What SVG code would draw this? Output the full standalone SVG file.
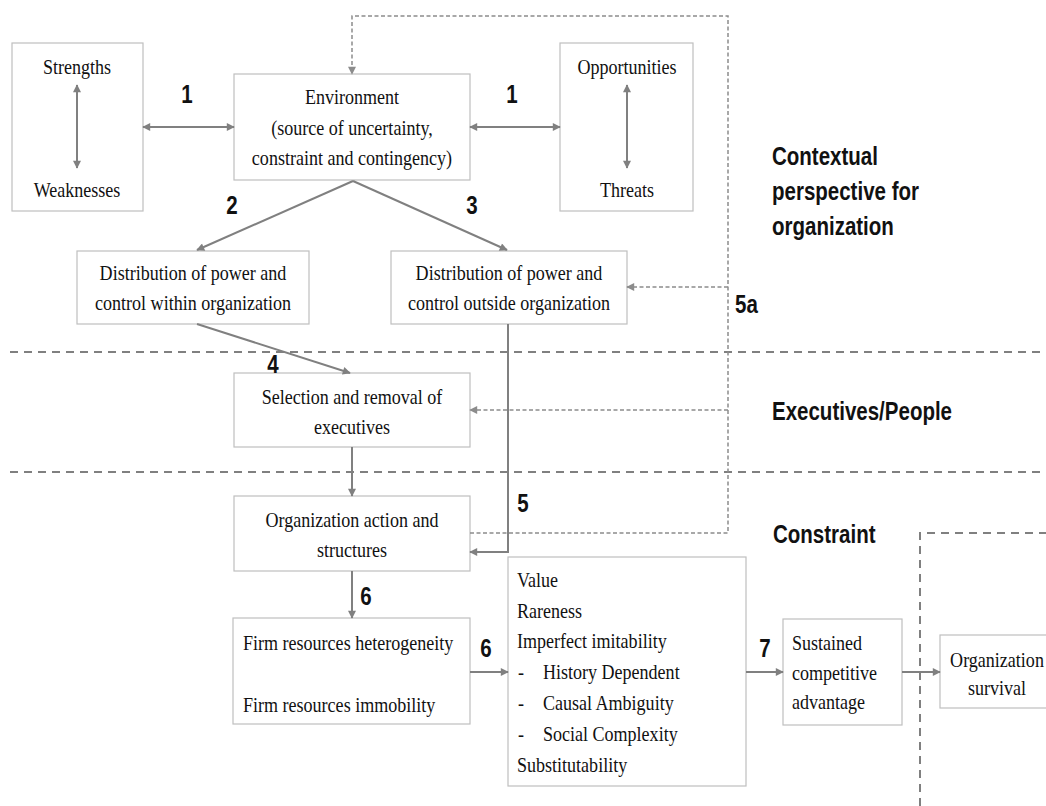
<svg xmlns="http://www.w3.org/2000/svg" width="1046" height="806" viewBox="0 0 1046 806">
<style>
.box{fill:#fff;stroke:#bfbfbf;stroke-width:1.2}
.t{font-family:"Liberation Serif","Times New Roman",serif;font-size:20.5px;fill:#111}
.c{text-anchor:middle}
.conn{fill:none;stroke:#808080;stroke-width:2}
.dash{fill:none;stroke:#8c8c8c;stroke-width:1.5;stroke-dasharray:4 2.5}
.sep{fill:none;stroke:#808080;stroke-width:2;stroke-dasharray:8 6}
.lab{font-family:"Liberation Sans",Arial,sans-serif;font-weight:bold;font-size:25px;fill:#111}
</style>
<defs>
<marker id="ah" viewBox="0 0 10 10" refX="9" refY="5" markerWidth="9" markerHeight="8" markerUnits="userSpaceOnUse" orient="auto-start-reverse"><path d="M0,0 L10,5 L0,10 z" fill="#808080"/></marker>
<marker id="ahd" viewBox="0 0 10 10" refX="9" refY="5" markerWidth="9" markerHeight="8" markerUnits="userSpaceOnUse" orient="auto-start-reverse"><path d="M0,0 L10,5 L0,10 z" fill="#8c8c8c"/></marker>
</defs>
<rect width="1046" height="806" fill="#fff"/>

<g id="separators">
<path class="sep" d="M10,352 H1046"/>
<path class="sep" d="M10,472 H1046"/>
<path class="sep" d="M920,806 V533 H1046"/>
</g>

<g id="strengths-weaknesses">
<rect class="box" x="12" y="43" width="131" height="168"/>
<g transform="translate(77,0) scale(0.88,1)">
<text class="t c" x="0" y="74">Strengths</text>
<text class="t c" x="0" y="197">Weaknesses</text>
</g>
</g>

<g id="environment">
<rect class="box" x="234" y="74" width="236" height="106"/>
<g transform="translate(352,0) scale(0.88,1)">
<text class="t c" x="0" y="104">Environment</text>
<text class="t c" x="0" y="135">(source of uncertainty,</text>
<text class="t c" x="0" y="165">constraint and contingency)</text>
</g>
</g>

<g id="opportunities-threats">
<rect class="box" x="560" y="43" width="133" height="168"/>
<g transform="translate(627,0) scale(0.88,1)">
<text class="t c" x="0" y="74">Opportunities</text>
<text class="t c" x="0" y="197">Threats</text>
</g>
</g>

<g id="power-within">
<rect class="box" x="77" y="251" width="232" height="73"/>
<g transform="translate(193,0) scale(0.88,1)">
<text class="t c" x="0" y="280">Distribution of power and</text>
<text class="t c" x="0" y="310">control within organization</text>
</g>
</g>

<g id="power-outside">
<rect class="box" x="391" y="251" width="236" height="73"/>
<g transform="translate(509,0) scale(0.88,1)">
<text class="t c" x="0" y="280">Distribution of power and</text>
<text class="t c" x="0" y="310">control outside organization</text>
</g>
</g>

<g id="selection">
<rect class="box" x="234" y="373" width="236" height="74"/>
<g transform="translate(352,0) scale(0.88,1)">
<text class="t c" x="0" y="404">Selection and removal of</text>
<text class="t c" x="0" y="434">executives</text>
</g>
</g>

<g id="org-action">
<rect class="box" x="234" y="496" width="236" height="75"/>
<g transform="translate(352,0) scale(0.88,1)">
<text class="t c" x="0" y="527">Organization action and</text>
<text class="t c" x="0" y="557">structures</text>
</g>
</g>

<g id="firm-resources">
<rect class="box" x="233" y="618" width="237" height="106"/>
<g transform="translate(243,0) scale(0.88,1)">
<text class="t" x="0" y="650">Firm resources heterogeneity</text>
<text class="t" x="0" y="712">Firm resources immobility</text>
</g>
</g>

<g id="vrin">
<rect class="box" x="508" y="557" width="238" height="229"/>
<g transform="translate(517,0) scale(0.88,1)">
<text class="t" x="0" y="587">Value</text>
<text class="t" x="0" y="618">Rareness</text>
<text class="t" x="0" y="648">Imperfect imitability</text>
<text class="t" y="679"><tspan x="1">-</tspan><tspan x="29.5">History Dependent</tspan></text>
<text class="t" y="710"><tspan x="1">-</tspan><tspan x="29.5">Causal Ambiguity</tspan></text>
<text class="t" y="741"><tspan x="1">-</tspan><tspan x="29.5">Social Complexity</tspan></text>
<text class="t" x="0" y="772">Substitutability</text>
</g>
</g>

<g id="sustained">
<rect class="box" x="783" y="619" width="119" height="106"/>
<g transform="translate(792,0) scale(0.88,1)">
<text class="t" x="0" y="650">Sustained</text>
<text class="t" x="0" y="680">competitive</text>
<text class="t" x="0" y="709">advantage</text>
</g>
</g>

<g id="survival">
<rect class="box" x="940" y="635" width="120" height="73"/>
<g transform="translate(997,0) scale(0.88,1)">
<text class="t c" x="0" y="667">Organization</text>
<text class="t c" x="0" y="695">survival</text>
</g>
</g>

<g id="connectors">
<path class="conn" d="M77,85 V168" marker-start="url(#ah)" marker-end="url(#ah)"/>
<path class="conn" d="M627,85 V168" marker-start="url(#ah)" marker-end="url(#ah)"/>
<path class="conn" d="M143,127 H234" marker-start="url(#ah)" marker-end="url(#ah)"/>
<path class="conn" d="M470,127 H560" marker-start="url(#ah)" marker-end="url(#ah)"/>
<path class="conn" d="M353,181 L197,250" marker-end="url(#ah)"/>
<path class="conn" d="M353,181 L507,250" marker-end="url(#ah)"/>
<path class="conn" d="M197,324 L350,373" marker-end="url(#ah)"/>
<path class="conn" d="M352,447 V496" marker-end="url(#ah)"/>
<path class="conn" d="M508,324 V552 H470" marker-end="url(#ah)"/>
<path class="conn" d="M352,571 V618" marker-end="url(#ah)"/>
<path class="conn" d="M470,672 H508" marker-end="url(#ah)"/>
<path class="conn" d="M746,672 H783" marker-end="url(#ah)"/>
<path class="conn" d="M902,672 H940" marker-end="url(#ah)"/>
<path class="dash" d="M470,533 H728 V16 H352 V74" marker-end="url(#ahd)"/>
<path class="dash" d="M728,287 H627" marker-end="url(#ahd)"/>
<path class="dash" d="M728,410 H470" marker-end="url(#ahd)"/>
</g>

<g id="labels">
<text class="lab c" transform="translate(187,103) scale(0.82,1)">1</text>
<text class="lab c" transform="translate(512,103) scale(0.82,1)">1</text>
<text class="lab c" transform="translate(232,214) scale(0.82,1)">2</text>
<text class="lab c" transform="translate(472,214) scale(0.82,1)">3</text>
<text class="lab c" transform="translate(273,373) scale(0.82,1)">4</text>
<text class="lab" transform="translate(735,313) scale(0.82,1)">5a</text>
<text class="lab c" transform="translate(523,512) scale(0.82,1)">5</text>
<text class="lab c" transform="translate(366,605) scale(0.82,1)">6</text>
<text class="lab c" transform="translate(486,657) scale(0.82,1)">6</text>
<text class="lab c" transform="translate(765,657) scale(0.82,1)">7</text>
<text class="lab" transform="translate(772,165) scale(0.82,1)">Contextual</text>
<text class="lab" transform="translate(772,200) scale(0.82,1)">perspective for</text>
<text class="lab" transform="translate(772,235) scale(0.82,1)">organization</text>
<text class="lab" transform="translate(772,420) scale(0.82,1)">Executives/People</text>
<text class="lab" transform="translate(773,543) scale(0.82,1)">Constraint</text>
</g>
</svg>
